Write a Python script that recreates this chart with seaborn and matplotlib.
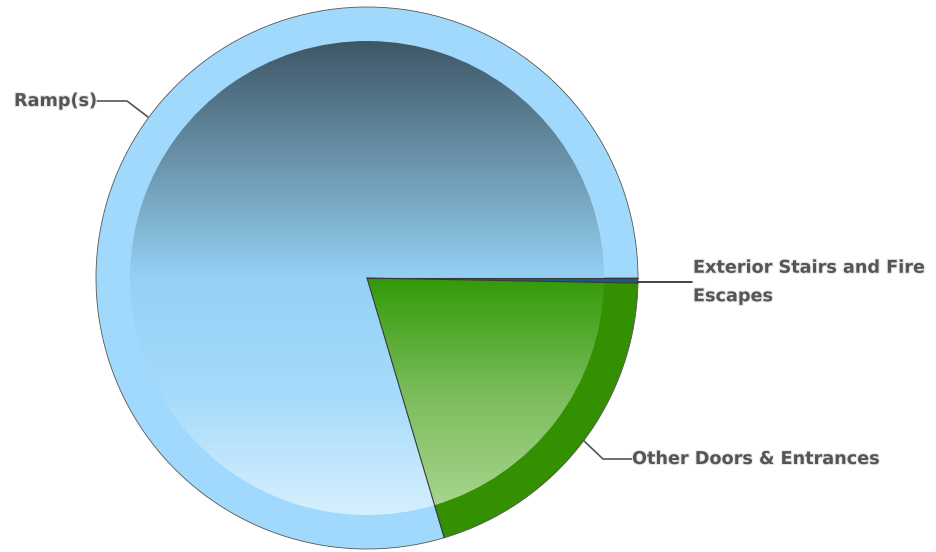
import numpy as np
import matplotlib
matplotlib.use("Agg")
import matplotlib.pyplot as plt
import matplotlib.patheffects as pe
from matplotlib.colors import LinearSegmentedColormap
import seaborn as sns

# ---- data ----
labels = ["Exterior Stairs and Fire\nEscapes", "Other Doors & Entrances", "Ramp(s)"]
values = [0.3, 20.1, 79.6]
ring_colors = ["#1c5a8a", "#339000", "#a1d9fd"]
grad_stops = [
    ["#17486e", "#1f6aa0"],
    ["#339a08", "#7dbd5c", "#aad692"],
    ["#3e5767", "#6a93ab", "#95d1f4", "#a6dbfb", "#d6effe"],
]

sns.set_theme(style="white")
plt.rcParams["font.family"] = ["DejaVu Sans"]

W, H = 936, 552
fig = plt.figure(figsize=(W / 100, H / 100), dpi=100)
ax = fig.add_axes([0, 0, 1, 1])

cx, cy = 367, H - 278
R, r_in = 271, 237

# outer ring (solid colours)
ax.pie(values, colors=ring_colors, startangle=0, counterclock=False,
       center=(cx, cy), radius=R, frame=True,
       wedgeprops=dict(edgecolor="#555555", linewidth=0.6))

# inner disc, filled below with vertical gradients
inner, _ = ax.pie(values, colors=["none"] * 3, startangle=0, counterclock=False,
                  center=(cx, cy), radius=r_in, frame=True,
                  wedgeprops=dict(edgecolor="none", linewidth=0))
ax.set_xlim(0, W)
ax.set_ylim(0, H)
ax.set_aspect("equal")
ax.axis("off")

ys = np.linspace(0, 1, 256).reshape(-1, 1)
for i, (w, stops) in enumerate(zip(inner, grad_stops)):
    cmap = LinearSegmentedColormap.from_list("g%d" % i, stops)
    if i == 1:
        ext = (cx - r_in, cx + r_in, cy - r_in, cy)
    else:
        ext = (cx - r_in, cx + r_in, cy - r_in, cy + r_in)
    im = ax.imshow(ys, cmap=cmap, extent=ext, origin="upper", aspect="auto",
                   interpolation="bilinear", zorder=2)
    im.set_clip_path(w)

# wedge boundary lines
ang = np.cumsum([0] + values) / 100 * 360
for a in ang[:3]:
    t = np.deg2rad(-a)
    ax.plot([cx, cx + R * np.cos(t)], [cy, cy + R * np.sin(t)],
            color="#3a3a3a", lw=0.8, zorder=3)

# labels with leader lines
txt = dict(color="#555555", fontsize=12.7, fontweight="bold", zorder=5,
           path_effects=[pe.withStroke(linewidth=1.5, foreground="#e8e8e8")])
lc = dict(color="#555555", lw=1.2, zorder=4)

ax.plot([97, 127, 148], [H - 101, H - 101, H - 117], **lc)
ax.text(14, H - 101, labels[2], ha="left", va="center", **txt)

ax.plot([638, 692], [H - 282, H - 282], color="#222222", lw=1.2, zorder=4)
ax.text(693, H - 282, labels[0], ha="left", va="center", linespacing=1.75, **txt)

ax.plot([583, 603, 632], [H - 440, H - 459, H - 459], **lc)
ax.text(632, H - 459, labels[1], ha="left", va="center", **txt)

fig.savefig("out.png", dpi=100, facecolor="white")
